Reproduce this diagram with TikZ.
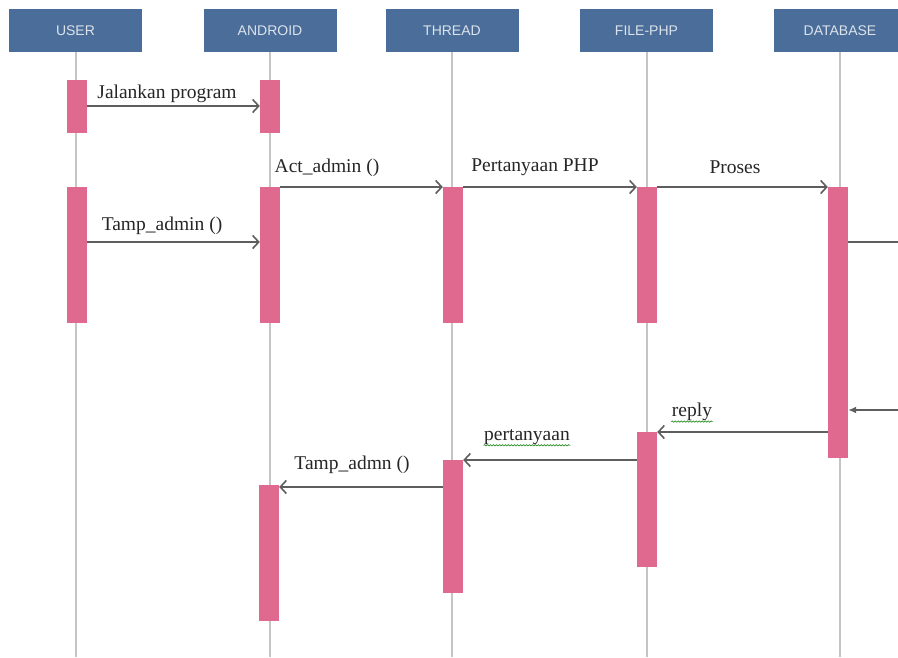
\documentclass[tikz,border=0pt]{standalone}
\usepackage{fontspec}
\setmainfont{Liberation Serif}
\newfontfamily\headfont{Liberation Sans}
\usetikzlibrary{arrows.meta,calc,decorations.pathmorphing}

\definecolor{headblue}{HTML}{4A6D99}
\definecolor{headtext}{HTML}{DCE3EC}
\definecolor{barpink}{HTML}{E0698F}
\definecolor{lifegray}{HTML}{C4C4C4}
\definecolor{msggray}{HTML}{5E5E5E}
\definecolor{spellgreen}{HTML}{3C9A3C}

\tikzset{
  head/.style={fill=headblue, draw=none, minimum width=133pt, minimum height=43pt,
    inner sep=0pt, text=headtext, font=\headfont\fontsize{14}{16}\selectfont},
  lifeline/.style={draw=lifegray, line width=2pt},
  actbar/.style={fill=barpink, draw=none, minimum width=20pt, inner sep=0pt},
  msg/.style={draw=msggray, line width=1.8pt,
    -{Straight Barb[length=6pt,width=13pt,line width=1.6pt]}},
  selfmsg/.style={draw=msggray, line width=1.8pt},
  lbl/.style={inner sep=0.5pt, text=black!85, font=\fontsize{19.5}{21}\selectfont},
  spell/.style={draw=spellgreen, line width=0.8pt,
    decorate, decoration={snake, amplitude=0.6pt, segment length=3pt}}
}

\begin{document}
\begin{tikzpicture}[x=1pt, y=-1pt]
  \useasboundingbox (0,0) rectangle (898,657);
  \begin{scope}
    \clip (0,0) rectangle (898,657);

    % lifeline heads
    \node[head] (user) at (75.5,30.5)  {USER};
    \node[head] (andr) at (270,30.5)   {ANDROID};
    \node[head] (thrd) at (452,30.5)   {THREAD};
    \node[head] (fphp) at (646.5,30.5) {FILE-PHP};
    \node[head] (dbase) at (840,30.5)  {DATABASE};

    % lifeline ends
    \coordinate (userE) at (75.5,657);
    \coordinate (andrE) at (270,657);
    \coordinate (thrdE) at (452,657);
    \coordinate (fphpE) at (646.5,657);
    \coordinate (dbaseE) at (840,657);

    \foreach \h in {user,andr,thrd,fphp,dbase}
      \draw[lifeline] (\h.south) -- (\h E);

    % activation bars
    \node[actbar, minimum height=53pt]  (u1) at (77,106.5) {};
    \node[actbar, minimum height=136pt] (u2) at (77,255) {};
    \node[actbar, minimum height=53pt]  (a1) at (270,106.5) {};
    \node[actbar, minimum height=136pt] (a2) at (270,255) {};
    \node[actbar, minimum height=136pt] (a3) at (269,553) {};
    \node[actbar, minimum height=136pt] (t2) at (453,255) {};
    \node[actbar, minimum height=133pt] (t3) at (453,526.5) {};
    \node[actbar, minimum height=136pt] (f2) at (647,255) {};
    \node[actbar, minimum height=135pt] (f3) at (647,499.5) {};
    \node[actbar, minimum height=271pt] (d2) at (838,322.5) {};

    % message rows
    \coordinate (r1) at (0,106);
    \coordinate (r2) at (0,187);
    \coordinate (r3) at (0,242);
    \coordinate (r4) at (0,410);
    \coordinate (r5) at (0,432);
    \coordinate (r6) at (0,460);
    \coordinate (r7) at (0,487);
    \coordinate (selfR) at (902,0);

    % calls
    \draw[msg] (u1.east |- r1) -- (a1.west |- r1);
    \draw[msg] (a2.east |- r2) -- (t2.west |- r2);
    \draw[msg] (t2.east |- r2) -- (f2.west |- r2);
    \draw[msg] (f2.east |- r2) -- (d2.west |- r2);
    \draw[msg] (u2.east |- r3) -- (a2.west |- r3);

    % self call on the database
    \draw[selfmsg, -{Latex[length=8pt,width=7pt]}]
      (d2.east |- r3) -- (selfR |- r3) -- (selfR |- r4) -- (d2.east |- r4);

    % replies
    \draw[msg] (d2.west |- r5) -- (f3.east |- r5);
    \draw[msg] (f3.west |- r6) -- (t3.east |- r6);
    \draw[msg] (t3.west |- r7) -- (a3.east |- r7);

    % labels
    \node[lbl] (l1) at (167,94)  {Jalankan program};
    \node[lbl] (l2) at (327,168) {Act\_admin ()};
    \node[lbl] (l3) at (535,167) {Pertanyaan PHP};
    \node[lbl] (l4) at (735,167) {Proses};
    \node[lbl] (l5) at (162,226) {Tamp\_admin ()};
    \node[lbl] (l6) at (692,412) {reply};
    \node[lbl] (l7) at (527,437) {pertanyaan};
    \node[lbl] (l8) at (352,465) {Tamp\_admn ()};

    \draw[spell] (l6.south west) -- (l6.south east);
    \draw[spell] (l7.south west) -- (l7.south east);
  \end{scope}
\end{tikzpicture}
\end{document}
